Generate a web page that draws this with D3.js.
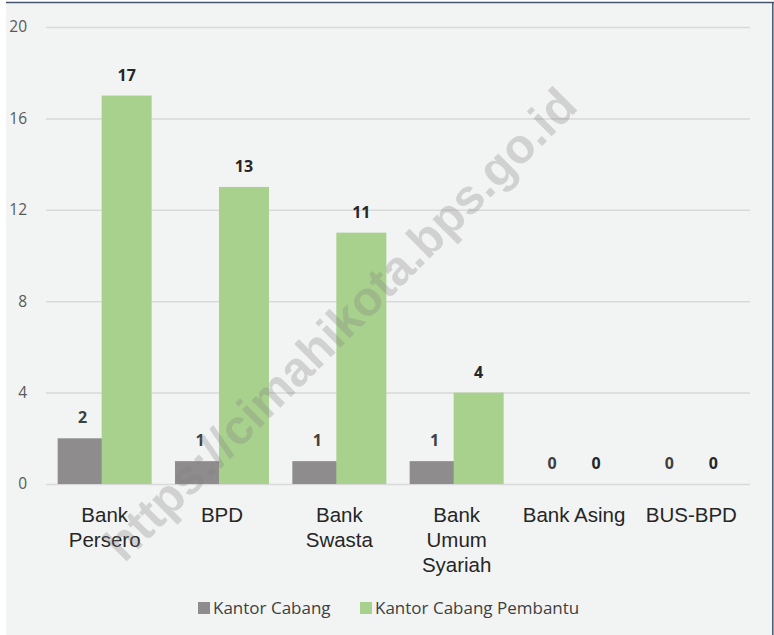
<!DOCTYPE html>
<html>
<head>
<meta charset="utf-8">
<script src="https://cdn.jsdelivr.net/npm/d3@7"></script>
<style>
  html, body { margin: 0; padding: 0; background: #ffffff; }
  svg { display: block; }
</style>
</head>
<body>
<svg id="chart" width="774" height="635"></svg>
<script>
// ---- data ----
const categories = ["Bank Persero", "BPD", "Bank Swasta", "Bank Umum Syariah", "Bank Asing", "BUS-BPD"];
const categoryLabelLines = [["Bank", "Persero"], ["BPD"], ["Bank", "Swasta"], ["Bank", "Umum", "Syariah"], ["Bank Asing"], ["BUS-BPD"]];
const seriesNames = ["Kantor Cabang", "Kantor Cabang Pembantu"];
const kantorCabang = [2, 1, 1, 1, 0, 0];
const kantorCabangPembantu = [17, 13, 11, 4, 0, 0];
const yTicks = [0, 4, 8, 12, 16, 20];
const watermarkText = "https://cimahikota.bps.go.id";

// ---- styles ----
const colors = { "Kantor Cabang": "#8e8c8d", "Kantor Cabang Pembantu": "#a9d18e" };
const labelColors = { "Kantor Cabang": "#404040", "Kantor Cabang Pembantu": "#262626" };
const seriesValues = { "Kantor Cabang": kantorCabang, "Kantor Cabang Pembantu": kantorCabangPembantu };

const svg = d3.select("#chart");

// background panel
svg.append("rect").attr("x", 6).attr("y", 3).attr("width", 768).attr("height", 632).attr("fill", "#f2f4f3");
svg.append("line").attr("x1", 6).attr("x2", 774).attr("y1", 2.5).attr("y2", 2.5).attr("stroke", "#44546a").attr("stroke-width", 1.5);
svg.append("line").attr("x1", 772.8).attr("x2", 772.8).attr("y1", 2).attr("y2", 635).attr("stroke", "#44546a").attr("stroke-width", 1.5);

const plotLeft = 46, plotRight = 750, plotTop = 27, plotBottom = 484;

const x = d3.scaleBand().domain(categories).range([plotLeft, plotRight]).padding(0);
const y = d3.scaleLinear().domain([0, 20]).range([plotBottom, plotTop]);
const barW = 50;
const offset = d3.scalePoint().domain(seriesNames).range([-22, 22]);
const center = c => x(c) + x.bandwidth() / 2;

// gridlines + y tick labels
const yAxis = d3.axisLeft(y).tickValues(yTicks).tickSize(-(plotRight - plotLeft)).tickPadding(19).tickFormat(d3.format("d"));
const gy = svg.append("g").attr("transform", `translate(${plotLeft},0)`).call(yAxis);
gy.select(".domain").remove();
gy.selectAll(".tick line").attr("stroke", "#d9d9d9").attr("stroke-width", 1.5);
gy.selectAll(".tick text").attr("fill", "#595959").style("font-family", "'Open Sans', sans-serif").style("font-size", "15.5px");

// x labels
const xAxis = d3.axisBottom(x).tickSize(0).tickFormat("");
const gx = svg.append("g").attr("transform", `translate(0,${plotBottom})`).call(xAxis);
gx.select(".domain").remove();
gx.selectAll(".tick").each(function(d, i) {
  const t = d3.select(this).append("text")
    .attr("text-anchor", "middle")
    .attr("fill", "#262626")
    .style("font-family", "'Liberation Sans', Arial, sans-serif")
    .style("font-size", "20.5px");
  categoryLabelLines[i].forEach((line, j) => {
    t.append("tspan").attr("x", 0).attr("y", 38 + j * 25).text(line);
  });
});

// bars
seriesNames.forEach(s => {
  const vals = seriesValues[s];
  svg.append("g").selectAll("rect").data(categories).join("rect")
    .attr("x", (c) => center(c) + offset(s) - barW / 2)
    .attr("width", barW)
    .attr("y", (c, i) => y(vals[i]))
    .attr("height", (c, i) => y(0) - y(vals[i]))
    .attr("fill", colors[s]);
});

// data labels
seriesNames.forEach(s => {
  const vals = seriesValues[s];
  svg.append("g").selectAll("text").data(categories).join("text")
    .attr("x", (c) => center(c) + offset(s))
    .attr("y", (c, i) => y(vals[i]) - 15)
    .attr("text-anchor", "middle")
    .attr("fill", labelColors[s])
    .style("font-family", "'Open Sans', sans-serif")
    .style("font-weight", "bold")
    .style("font-size", "16px")
    .text((c, i) => vals[i]);
});

// legend
const legendItems = [{ name: seriesNames[0], x: 198 }, { name: seriesNames[1], x: 360 }];
const lg = svg.append("g");
legendItems.forEach(it => {
  lg.append("rect").attr("x", it.x).attr("y", 602).attr("width", 12).attr("height", 12).attr("fill", colors[it.name]);
  lg.append("text").attr("x", it.x + 15).attr("y", 614)
    .attr("fill", "#404040")
    .style("font-family", "'Open Sans', sans-serif")
    .style("font-size", "17px")
    .text(it.name);
});

// watermark
svg.append("text")
  .attr("transform", "translate(352,336) rotate(-45)")
  .attr("text-anchor", "middle")
  .attr("fill", "rgba(128,128,128,0.3)")
  .style("font-family", "'Liberation Sans', Arial, sans-serif")
  .style("font-weight", "bold")
  .style("font-size", "48.5px")
  .text(watermarkText);
</script>
</body>
</html>
